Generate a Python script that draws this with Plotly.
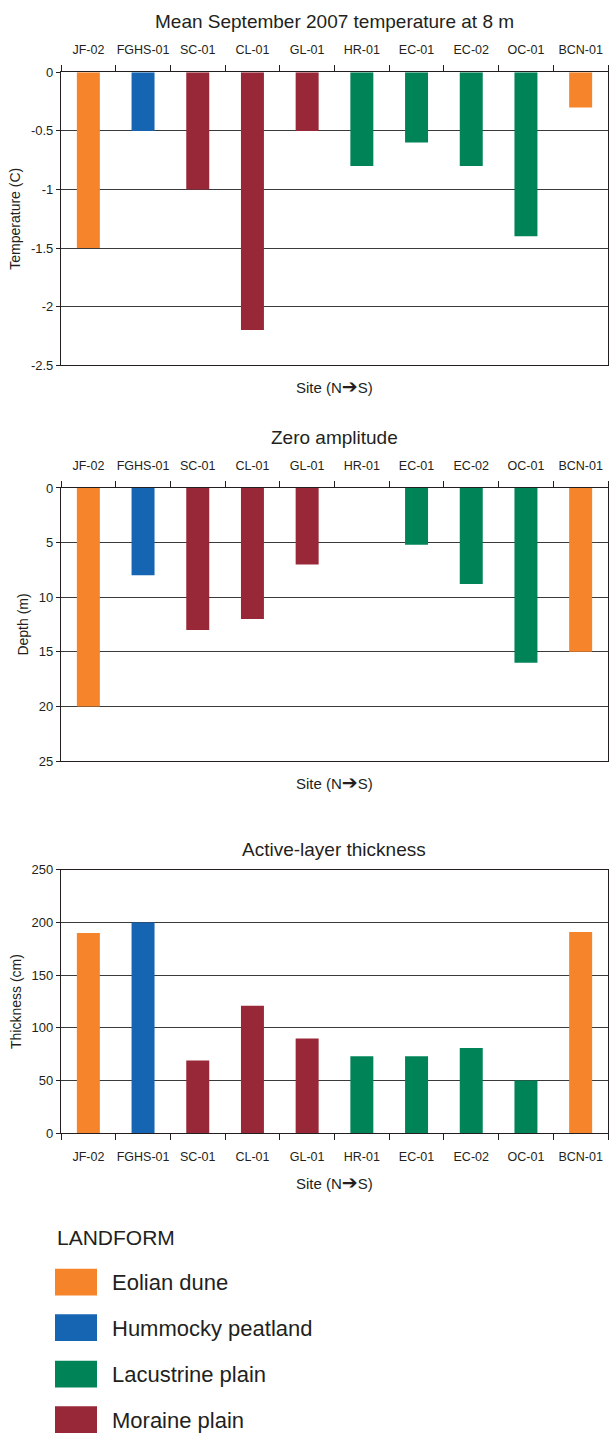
import plotly.graph_objects as go

# Sites ordered north to south
sites = ["JF-02", "FGHS-01", "SC-01", "CL-01", "GL-01",
         "HR-01", "EC-01", "EC-02", "OC-01", "BCN-01"]
site_landform = ["Eolian dune", "Hummocky peatland", "Moraine plain", "Moraine plain",
                 "Moraine plain", "Lacustrine plain", "Lacustrine plain",
                 "Lacustrine plain", "Lacustrine plain", "Eolian dune"]

# Mean September 2007 temperature at 8 m (C)
temp_8m = [-1.5, -0.5, -1.0, -2.2, -0.5, -0.8, -0.6, -0.8, -1.4, -0.3]
# Depth of zero annual amplitude (m); none recorded at HR-01
zero_amp_depth = [20, 8, 13, 12, 7, None, 5.2, 8.8, 16, 15]
# Active-layer thickness (cm)
active_layer = [190, 200, 69, 121, 90, 73, 73, 81, 50, 191]

landforms = ["Eolian dune", "Hummocky peatland", "Lacustrine plain", "Moraine plain"]
landform_colors = ["#F5842A", "#1565B3", "#008457", "#982838"]

temp_ticks = [0, -0.5, -1, -1.5, -2, -2.5]
temp_ticktext = ["0", "-0.5", "-1", "-1.5", "-2", "-2.5"]
depth_ticks = [0, 5, 10, 15, 20, 25]
thick_ticks = [0, 50, 100, 150, 200, 250]

W, H = 611, 1442
FONT = "Liberation Sans, Arial, sans-serif"
INK = "#231f20"
GRID = "#3a3a3a"

color_of = dict(zip(landforms, landform_colors))
bar_colors = [color_of[lf] for lf in site_landform]


def py(px):
    """Convert a pixel row (from top) to paper y."""
    return 1 - px / H


def px_x(px):
    return px / W


x_dom = [px_x(61), px_x(608)]
panels = [
    # (data, y top px, y bottom px, x axis side)
    (temp_8m, 66, 362, "top"),
    (zero_amp_depth, 486, 762, "top"),
    (active_layer, 872, 1138, "bottom"),
]

fig = go.Figure()
for i, (vals, top, bot, side) in enumerate(panels, start=1):
    fig.add_trace(go.Bar(
        x=sites, y=vals, width=0.42,
        marker=dict(color=bar_colors, line=dict(width=0)),
        showlegend=False,
        xaxis=f"x{i}" if i > 1 else "x",
        yaxis=f"y{i}" if i > 1 else "y",
    ))

axis_common = dict(
    showline=True, linecolor=INK, linewidth=1.2, mirror=True,
    ticks="outside", tickcolor=INK, tickwidth=1,
    tickfont=dict(family=FONT, size=13, color=INK),
    zeroline=False,
)

layout = dict(
    width=W, height=H,
    margin=dict(l=0, r=0, t=0, b=0),
    paper_bgcolor="white", plot_bgcolor="white",
    font=dict(family=FONT, color=INK),
    bargap=0.58,
)

y_specs = [
    dict(range=[-2.5, 0], tickvals=temp_ticks, ticktext=temp_ticktext,
         title="Temperature (C)"),
    dict(range=[25, 0], tickvals=depth_ticks,
         ticktext=[str(v) for v in depth_ticks], title="Depth (m)"),
    dict(range=[0, 250], tickvals=thick_ticks,
         ticktext=[str(v) for v in thick_ticks], title="Thickness (cm)"),
]

for i, ((vals, top, bot, side), ys) in enumerate(zip(panels, y_specs), start=1):
    suffix = "" if i == 1 else str(i)
    xa = f"xaxis{suffix}"
    ya = f"yaxis{suffix}"
    layout[xa] = dict(
        axis_common, domain=x_dom, anchor=f"y{suffix}", side=side,
        type="category", tickson="boundaries", ticklen=6, tickangle=0,
        ticklabelstandoff=12, showgrid=False,
        tickfont=dict(family=FONT, size=12.5, color=INK),
        categoryorder="array", categoryarray=sites,
    )
    layout[ya] = dict(
        axis_common, domain=[py(bot), py(top)], anchor=f"x{suffix}",
        range=ys["range"], tickvals=ys["tickvals"], ticktext=ys["ticktext"],
        ticklen=4, showgrid=True, gridcolor=GRID, gridwidth=1,
        title=dict(text=ys["title"], font=dict(family=FONT, size=14, color=INK),
                   standoff=6),
    )

fig.update_layout(**layout)

# Panel titles and site axis captions
titles = [("Mean September 2007 temperature at 8 m", 15),
          ("Zero amplitude", 435),
          ("Active-layer thickness", 851)]
for text, ypx in titles:
    fig.add_annotation(text=text, x=px_x(334), y=py(ypx), xref="paper", yref="paper",
                       showarrow=False, xanchor="center", yanchor="middle",
                       font=dict(family=FONT, size=19, color=INK))

site_caption = ("Site (N<span style='font-family:DejaVu Sans;font-size:19px'>"
                "\u2794</span>S)")
for ypx in [383, 783, 1187]:
    fig.add_annotation(text=site_caption, x=px_x(334), y=py(ypx), xref="paper",
                       yref="paper", showarrow=False, xanchor="center",
                       yanchor="middle", font=dict(family=FONT, size=15, color=INK))

# Landform key
fig.add_annotation(text="LANDFORM", x=px_x(55), y=py(1243), xref="paper", yref="paper",
                   showarrow=False, xanchor="left", yanchor="middle",
                   font=dict(family=FONT, size=21, color=INK))
key_tops = [1275, 1321, 1368, 1414]
for name, col, ytop in zip(landforms, landform_colors, key_tops):
    fig.add_shape(type="rect", xref="paper", yref="paper",
                  x0=px_x(55), x1=px_x(97), y0=py(ytop + 27), y1=py(ytop),
                  fillcolor=col, line=dict(width=0))
    fig.add_annotation(text=name, x=px_x(110), y=py(ytop + 14), xref="paper",
                       yref="paper", showarrow=False, xanchor="left",
                       yanchor="middle", font=dict(family=FONT, size=22, color=INK))

fig.write_html("out.html")
